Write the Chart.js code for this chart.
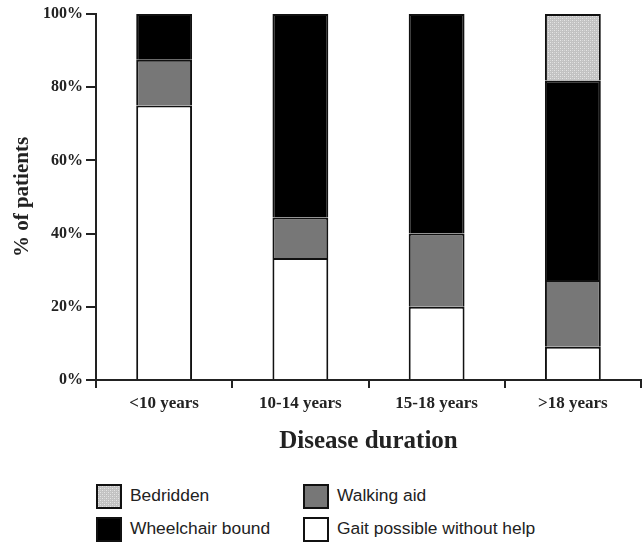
<!DOCTYPE html>
<html>
<head>
<meta charset="utf-8">
<script src="https://cdn.jsdelivr.net/npm/chart.js@4"></script>
<style>
    body { margin: 0; background: #fff; }
    #wrap { position: relative; width: 642px; height: 544px; }
    #myChart { position: absolute; left: 0; top: 0; }
    .item { position: absolute; font-family: "Liberation Sans", Arial, sans-serif; font-size: 17.4px; color: #222; line-height: 24px; }
    .caixa { position: absolute; width: 22px; height: 21px; border: 2px solid #111; }
</style>
</head>
<body>
<div id="wrap">
    <canvas id="myChart" width="642" height="460"></canvas>
    <div id="llegenda"></div>
</div>
<script>
let categories = ["<10 years", "10-14 years", "15-18 years", ">18 years"];
let gait = [75, 33.3, 20, 9.1];
let walkingAid = [12.5, 11.1, 20, 18.2];
let wheelchair = [12.5, 55.6, 60, 54.5];
let bedridden = [0, 0, 0, 18.2];
let yTicks = [0, 20, 40, 60, 80, 100];

// patro de punts per a "Bedridden"
function crearPatro() {
    let c = document.createElement("canvas");
    c.width = 4;
    c.height = 4;
    let ctx = c.getContext("2d");
    ctx.fillStyle = "#c2c2c2";
    ctx.fillRect(0, 0, 4, 4);
    ctx.fillStyle = "#e6e6e6";
    ctx.fillRect(0, 0, 1, 1);
    ctx.fillRect(2, 2, 1, 1);
    ctx.fillStyle = "#d4d4d4";
    ctx.fillRect(2, 0, 1, 1);
    ctx.fillRect(0, 2, 1, 1);
    return c;
}

let patroCanvas = crearPatro();
let patro = document.getElementById("myChart").getContext("2d").createPattern(patroCanvas, "repeat");

let series = [
    { label: "Gait possible without help", data: gait, color: "#ffffff" },
    { label: "Walking aid", data: walkingAid, color: "#777777" },
    { label: "Wheelchair bound", data: wheelchair, color: "#000000" },
    { label: "Bedridden", data: bedridden, color: patro }
];

let datasets = [];
for (let i = 0; i < series.length; i++) {
    datasets.push({
        label: series[i].label,
        data: series[i].data,
        backgroundColor: series[i].color,
        borderColor: "#111",
        borderWidth: { top: 2, left: 2, right: 2, bottom: 0 },
        borderSkipped: false,
        barPercentage: 0.41,
        categoryPercentage: 1
    });
}

let serif = "'Liberation Serif', 'Times New Roman', serif";

let canvas = document.getElementById("myChart");
let grafic = new Chart(canvas, {
    type: "bar",
    data: {
        labels: categories,
        datasets: datasets
    },
    options: {
        responsive: false,
        animation: false,
        layout: { padding: { top: 14, right: 1, left: 0, bottom: 0 } },
        plugins: {
            legend: { display: false },
            tooltip: { enabled: false }
        },
        scales: {
            x: {
                stacked: true,
                grid: { display: true, drawOnChartArea: false, drawTicks: true, tickLength: 8, color: "#222", lineWidth: 2, offset: true },
                border: { display: true, color: "#222", width: 2 },
                ticks: { color: "#222", padding: 5, font: { family: serif, size: 17, weight: "bold" } },
                title: { display: true, text: "Disease duration", color: "#222", padding: { top: 4, bottom: 3 }, font: { family: serif, size: 25, weight: "bold" } },
                afterFit: function (s) { s.height = 80; }
            },
            y: {
                stacked: true,
                min: 0,
                max: 100,
                afterBuildTicks: function (s) {
                    s.ticks = yTicks.map(function (v) { return { value: v }; });
                },
                grid: { display: true, drawOnChartArea: false, drawTicks: true, tickLength: 10, color: "#222", lineWidth: 2 },
                border: { display: true, color: "#222", width: 2 },
                ticks: {
                    color: "#222",
                    padding: 3,
                    font: { family: serif, size: 16, weight: "bold" },
                    callback: function (v) { return v + "%"; }
                },
                title: { display: true, text: "% of patients", color: "#222", padding: { top: 10, bottom: 0 }, font: { family: serif, size: 21, weight: "bold" } },
                afterFit: function (s) { s.width = 96; }
            }
        }
    }
});

// llegenda 2x2 sota el grafic
let ordre = [3, 1, 2, 0];
let posicions = [[96, 484], [303, 484], [96, 517], [303, 517]];
let llegenda = document.getElementById("llegenda");
for (let i = 0; i < ordre.length; i++) {
    let s = series[ordre[i]];
    let caixa = document.createElement("div");
    caixa.className = "caixa";
    caixa.style.left = posicions[i][0] + "px";
    caixa.style.top = posicions[i][1] + "px";
    if (ordre[i] == 3) {
        caixa.style.backgroundImage = "url(" + patroCanvas.toDataURL() + ")";
    } else {
        caixa.style.background = s.color;
    }
    llegenda.appendChild(caixa);

    let text = document.createElement("div");
    text.className = "item";
    text.style.left = (posicions[i][0] + 34) + "px";
    text.style.top = (posicions[i][1] - 1) + "px";
    text.textContent = s.label;
    llegenda.appendChild(text);
}
</script>
</body>
</html>
